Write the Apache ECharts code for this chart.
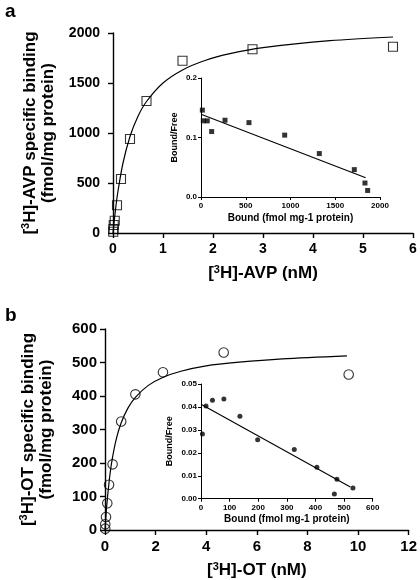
<!DOCTYPE html>
<html>
<head>
<meta charset="utf-8">
<script src="https://cdn.jsdelivr.net/npm/echarts@6/dist/echarts.min.js"></script>
<style>html,body{margin:0;padding:0;background:#fff}#c{width:420px;height:580px}</style>
</head>
<body>
<div id="c"></div>
<script>
// ---- Panel a: [3H]-AVP saturation ----
const aFree  = [0.005, 0.01, 0.015, 0.035, 0.08, 0.16, 0.34, 0.67, 1.39, 2.79, 5.6];
const aBound = [13, 40, 80, 123, 277, 540, 940, 1320, 1723, 1837, 1863];
const aCurveX = [0, 0.05, 0.1, 0.2, 0.34, 0.5, 0.67, 1, 1.4, 1.84, 2.34, 3, 4.34, 5.6];
const aCurveY = [0, 233, 420, 700, 965, 1167, 1315, 1500, 1633, 1725, 1793, 1853, 1923, 1960];
// inset a (Scatchard)
const aInsetBound = [15, 26, 70, 119, 268, 536, 935, 1322, 1713, 1832, 1862];
const aInsetRatio = [0.146, 0.128, 0.128, 0.110, 0.129, 0.125, 0.104, 0.073, 0.046, 0.0235, 0.011];
const aFitX = [0, 1840];
const aFitY = [0.139, 0.0325];

// ---- Panel b: [3H]-OT saturation ----
const bFree  = [0.01, 0.01, 0.04, 0.09, 0.16, 0.30, 0.64, 1.2, 2.29, 4.69, 9.63];
const bBound = [4, 17, 39, 80, 135, 196, 324, 405, 471, 530, 464];
const bCurveX = [0, 0.05, 0.1, 0.2, 0.3, 0.45, 0.64, 0.9, 1.2, 1.7, 2.3, 3, 4, 5.3, 7, 9.56];
const bCurveY = [0, 55, 99, 168, 218, 273, 320, 363, 396, 431, 456, 474, 490, 501, 511, 520];
// inset b (Scatchard)
const bInsetBound = [5, 17.5, 40, 80, 136, 198, 326, 405, 475, 466, 531];
const bInsetRatio = [0.0282, 0.0404, 0.0429, 0.0435, 0.0359, 0.0257, 0.0215, 0.0137, 0.0085, 0.002, 0.0047];
const bFitX = [0, 522];
const bFitY = [0.0412, 0.0051];

const zip = (xs, ys) => xs.map((x, i) => [x, ys[i]]);
const FONT = '"Liberation Sans", Arial, sans-serif';
const plain = (v) => String(v);

const supRich = (fs) => ({
  b: { fontSize: fs, fontWeight: 'bold', fontFamily: FONT, color: '#000' },
  s: { fontSize: Math.round(fs * 0.65), fontWeight: 'bold', fontFamily: FONT, color: '#000', verticalAlign: 'bottom', padding: [0, 0, Math.round(fs * 0.45), 0] }
});

function mainX(grid, max, interval, name, fs, gap) {
  return {
    type: 'value', gridIndex: grid, min: 0, max: max, interval: interval,
    axisLine: { onZero: false, lineStyle: { color: '#000', width: 1.4 } },
    axisTick: { length: 5, lineStyle: { color: '#000', width: 1.4 } },
    axisLabel: { color: '#000', fontSize: fs, fontWeight: 'bold', fontFamily: FONT, margin: 9, formatter: plain },
    splitLine: { show: false },
    name: name, nameLocation: 'middle', nameGap: gap,
    nameTextStyle: { rich: supRich(17) }
  };
}
function mainY(grid, max, interval, name, fs, gap, margin) {
  return {
    type: 'value', gridIndex: grid, min: 0, max: max, interval: interval,
    axisLine: { show: true, onZero: false, lineStyle: { color: '#000', width: 1.4 } },
    axisTick: { show: true, length: 5, lineStyle: { color: '#000', width: 1.4 } },
    axisLabel: { color: '#000', fontSize: fs, fontWeight: 'bold', fontFamily: FONT, margin: margin, formatter: plain },
    splitLine: { show: false },
    name: name, nameLocation: 'middle', nameGap: gap, nameRotate: 90,
    nameTextStyle: { rich: supRich(17), lineHeight: 18 }
  };
}
function insetX(grid, max, interval, gap) {
  return {
    type: 'value', gridIndex: grid, min: 0, max: max, interval: interval,
    axisLine: { onZero: false, lineStyle: { color: '#000', width: 1 } },
    axisTick: { length: 3, lineStyle: { color: '#000', width: 1 } },
    axisLabel: { color: '#000', fontSize: 8, fontFamily: FONT, margin: 5, fontWeight: 'bold', formatter: plain },
    splitLine: { show: false },
    name: 'Bound (fmol mg-1 protein)', nameLocation: 'middle', nameGap: gap,
    nameTextStyle: { color: '#000', fontSize: 10, fontFamily: FONT, fontWeight: 'bold' }
  };
}
function insetY(grid, max, interval, fmt, gap) {
  return {
    type: 'value', gridIndex: grid, min: 0, max: max, interval: interval,
    axisLine: { show: true, onZero: false, lineStyle: { color: '#000', width: 1 } },
    axisTick: { show: true, length: 3, lineStyle: { color: '#000', width: 1 } },
    axisLabel: { color: '#000', fontSize: 8, fontFamily: FONT, margin: 4, fontWeight: 'bold', formatter: fmt },
    splitLine: { show: false },
    name: 'Bound/Free', nameLocation: 'middle', nameGap: gap, nameRotate: 90,
    nameTextStyle: { color: '#000', fontSize: 9, fontFamily: FONT, fontWeight: 'bold' }
  };
}

const chart = echarts.init(document.getElementById('c'), null, { renderer: 'canvas' });
chart.setOption({
  backgroundColor: '#fff',
  animation: false,
  graphic: [
    { type: 'text', left: 5, top: 2, style: { text: 'a', fontSize: 19, fontWeight: 'bold', fontFamily: FONT, fill: '#000' } },
    { type: 'text', left: 5, top: 306, style: { text: 'b', fontSize: 19, fontWeight: 'bold', fontFamily: FONT, fill: '#000' } }
  ],
  grid: [
    { left: 113, top: 33, width: 300, height: 200 },
    { left: 201, top: 78, width: 179, height: 119 },
    { left: 105, top: 329, width: 305.5, height: 201.7 },
    { left: 201, top: 384, width: 171.7, height: 114.7 }
  ],
  xAxis: [
    mainX(0, 6, 1, '{b|[}{s|3}{b|H]-AVP (nM)}', 14, 31),
    insetX(1, 2000, 500, 16),
    mainX(2, 12, 2, '{b|[}{s|3}{b|H]-OT (nM)}', 15, 31),
    insetX(3, 600, 100, 16)
  ],
  yAxis: [
    mainY(0, 2000, 500, '{b|[}{s|3}{b|H]-AVP specific binding}\n{b|(fmol/mg protein)}', 14, 56, 13),
    insetY(1, 0.2, 0.1, (v) => v.toFixed(1), 22),
    mainY(2, 600, 100, '{b|[}{s|3}{b|H]-OT specific binding}\n{b|(fmol/mg protein)}', 15, 50, 8),
    insetY(3, 0.05, 0.01, (v) => v.toFixed(2), 27)
  ],
  series: [
    { type: 'line', xAxisIndex: 0, yAxisIndex: 0, data: zip(aCurveX, aCurveY), smooth: 0.3, showSymbol: false, lineStyle: { color: '#000', width: 1.2 }, silent: true },
    { type: 'scatter', xAxisIndex: 0, yAxisIndex: 0, data: zip(aFree, aBound), symbol: 'rect', symbolSize: 9, itemStyle: { color: 'rgba(0,0,0,0)', borderColor: '#000', borderWidth: 1.1 } },
    { type: 'line', xAxisIndex: 1, yAxisIndex: 1, data: zip(aFitX, aFitY), showSymbol: false, lineStyle: { color: '#000', width: 1.1 } },
    { type: 'scatter', xAxisIndex: 1, yAxisIndex: 1, data: zip(aInsetBound, aInsetRatio), symbol: 'rect', symbolSize: 5, itemStyle: { color: '#000' } },
    { type: 'line', xAxisIndex: 2, yAxisIndex: 2, data: zip(bCurveX, bCurveY), smooth: 0.3, showSymbol: false, lineStyle: { color: '#000', width: 1.2 }, silent: true },
    { type: 'scatter', xAxisIndex: 2, yAxisIndex: 2, data: zip(bFree, bBound), symbol: 'circle', symbolSize: 9.5, itemStyle: { color: 'rgba(0,0,0,0)', borderColor: '#000', borderWidth: 1.1 } },
    { type: 'line', xAxisIndex: 3, yAxisIndex: 3, data: zip(bFitX, bFitY), showSymbol: false, lineStyle: { color: '#000', width: 1.1 } },
    { type: 'scatter', xAxisIndex: 3, yAxisIndex: 3, data: zip(bInsetBound, bInsetRatio), symbol: 'circle', symbolSize: 5, itemStyle: { color: '#000' } }
  ]
});
</script>
</body>
</html>
